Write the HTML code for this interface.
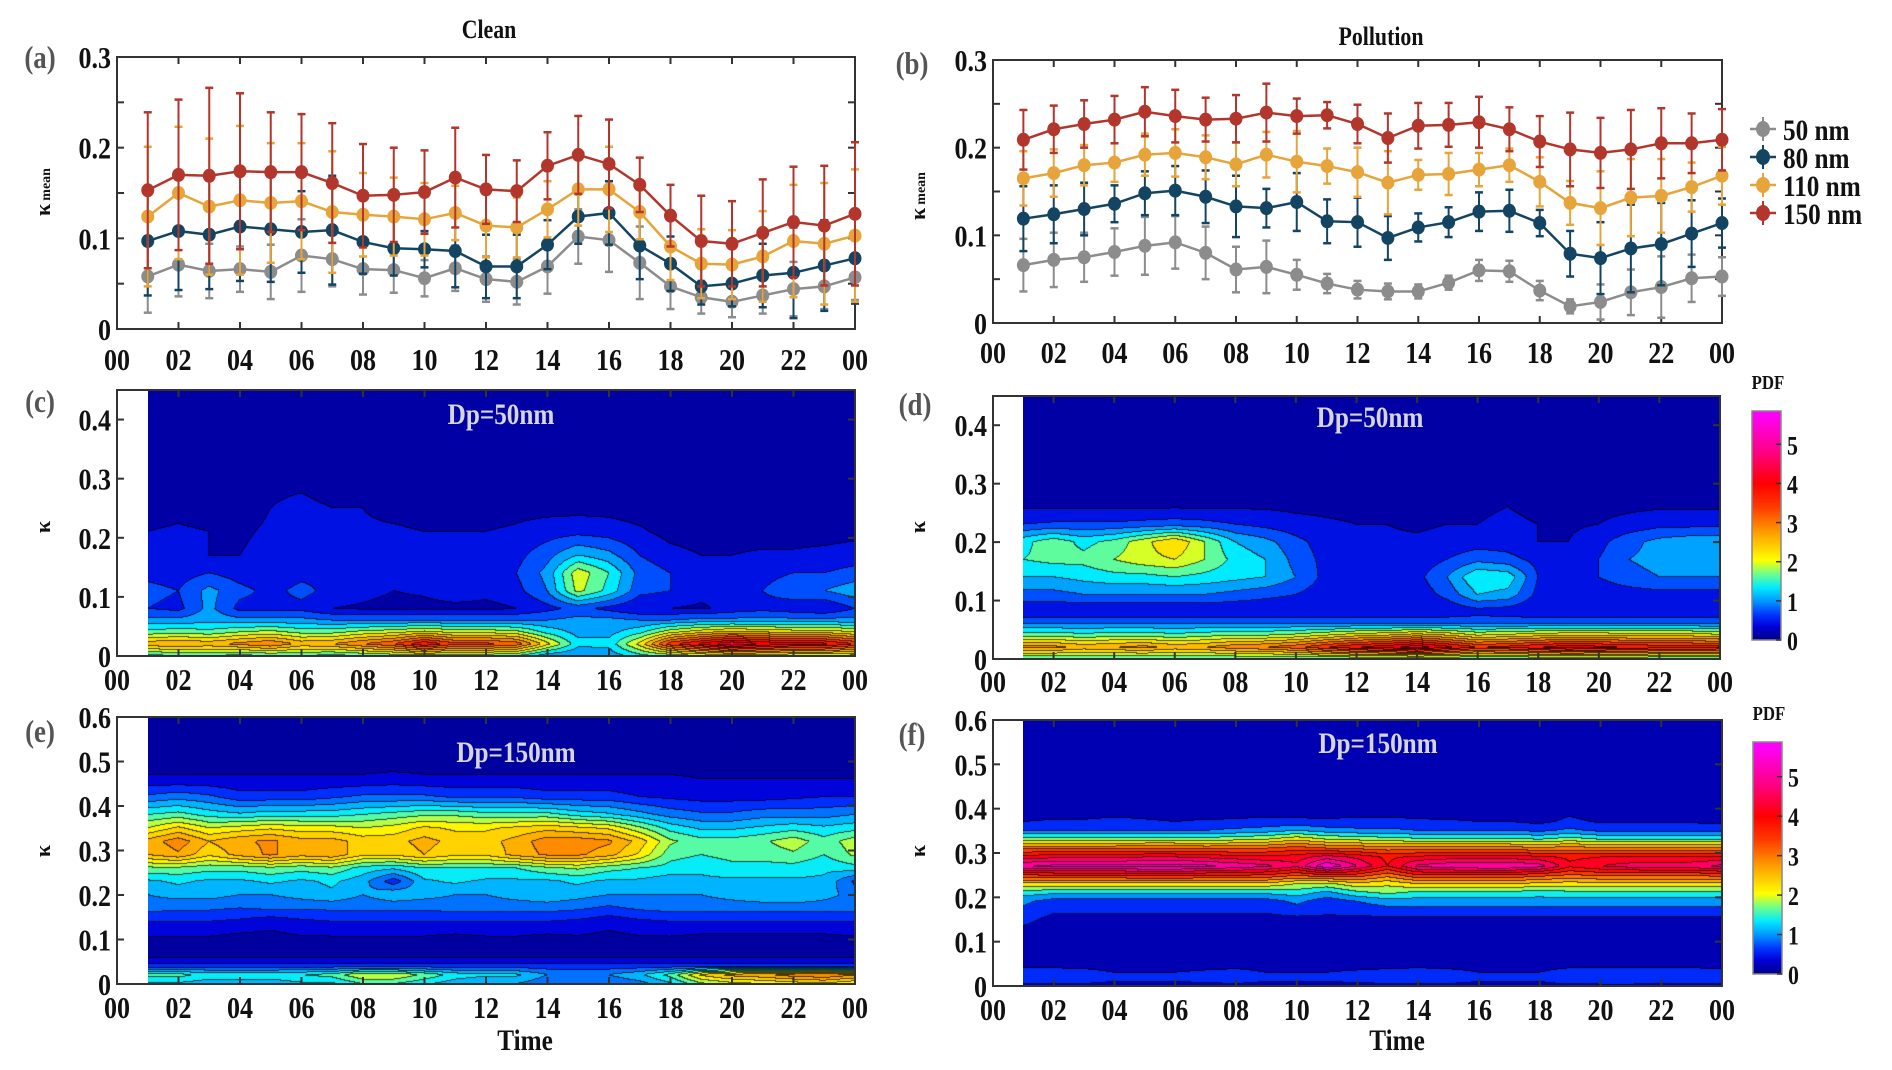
<!DOCTYPE html>
<html><head><meta charset="utf-8">
<style>
html,body{margin:0;padding:0;background:#fff;}
#wrap{position:relative;width:1892px;height:1070px;overflow:hidden;background:#fff;}
canvas{position:absolute;}
svg{position:absolute;left:0;top:0;}
</style></head>
<body>
<div id="wrap">
<canvas id="cc"></canvas>
<canvas id="cd"></canvas>
<canvas id="ce"></canvas>
<canvas id="cf"></canvas>
<canvas id="cbd"></canvas>
<canvas id="cbf"></canvas>
<svg id="svg" width="1892" height="1070" xmlns="http://www.w3.org/2000/svg"></svg>
</div>
<script>
// ---------- data: panel a/b (hours 1..24) ----------
const hours = [1,2,3,4,5,6,7,8,9,10,11,12,13,14,15,16,17,18,19,20,21,22,23,24];
const sizeLabels = ["50 nm","80 nm","110 nm","150 nm"];
const xTickLabels = ["00","02","04","06","08","10","12","14","16","18","20","22","00"];

const a50 = [0.058,0.071,0.064,0.066,0.063,0.081,0.077,0.066,0.065,0.056,0.067,0.055,0.052,0.069,0.102,0.098,0.073,0.047,0.035,0.030,0.037,0.044,0.047,0.057];
const a50e = [0.04,0.035,0.03,0.025,0.03,0.04,0.03,0.028,0.025,0.02,0.025,0.025,0.025,0.03,0.03,0.035,0.04,0.025,0.018,0.017,0.02,0.03,0.025,0.025];
const a80 = [0.097,0.108,0.104,0.113,0.110,0.107,0.109,0.096,0.089,0.088,0.086,0.069,0.069,0.093,0.124,0.128,0.092,0.072,0.047,0.050,0.059,0.062,0.070,0.078];
const a80e = [0.06,0.065,0.06,0.06,0.058,0.045,0.06,0.035,0.03,0.02,0.04,0.035,0.035,0.027,0.03,0.035,0.037,0.03,0.02,0.025,0.035,0.05,0.05,0.05];
const a110 = [0.124,0.150,0.135,0.142,0.139,0.141,0.129,0.126,0.124,0.121,0.128,0.114,0.112,0.132,0.154,0.154,0.129,0.091,0.072,0.071,0.080,0.097,0.094,0.103];
const a110e = [0.077,0.073,0.075,0.082,0.066,0.064,0.067,0.046,0.043,0.04,0.03,0.035,0.033,0.031,0.04,0.047,0.03,0.037,0.038,0.038,0.05,0.062,0.067,0.073];
const a150 = [0.153,0.170,0.169,0.174,0.173,0.173,0.161,0.147,0.148,0.151,0.167,0.154,0.152,0.180,0.192,0.182,0.159,0.125,0.097,0.094,0.106,0.118,0.114,0.127];
const a150e = [0.086,0.083,0.097,0.086,0.066,0.064,0.066,0.057,0.052,0.046,0.055,0.038,0.034,0.037,0.043,0.049,0.03,0.034,0.05,0.047,0.059,0.061,0.066,0.079];

const b50 = [0.066,0.072,0.075,0.081,0.088,0.092,0.080,0.061,0.064,0.055,0.045,0.038,0.036,0.036,0.046,0.060,0.059,0.037,0.019,0.024,0.035,0.041,0.051,0.053];
const b50e = [0.03,0.031,0.028,0.027,0.033,0.03,0.03,0.026,0.03,0.017,0.011,0.01,0.009,0.008,0.008,0.012,0.012,0.011,0.008,0.02,0.026,0.035,0.027,0.022];
const b80 = [0.119,0.124,0.130,0.136,0.148,0.151,0.144,0.133,0.131,0.138,0.116,0.115,0.097,0.109,0.115,0.127,0.128,0.114,0.079,0.074,0.085,0.090,0.102,0.114];
const b80e = [0.037,0.033,0.03,0.021,0.025,0.028,0.03,0.035,0.022,0.033,0.025,0.028,0.025,0.016,0.017,0.022,0.024,0.015,0.026,0.041,0.05,0.047,0.038,0.028];
const b110 = [0.165,0.171,0.180,0.183,0.192,0.194,0.189,0.181,0.192,0.184,0.179,0.172,0.160,0.169,0.170,0.175,0.180,0.161,0.137,0.131,0.143,0.145,0.155,0.168];
const b110e = [0.031,0.027,0.023,0.022,0.024,0.027,0.025,0.025,0.026,0.035,0.02,0.028,0.036,0.017,0.024,0.019,0.019,0.028,0.025,0.042,0.044,0.042,0.028,0.033];
const b150 = [0.209,0.221,0.227,0.232,0.241,0.236,0.232,0.233,0.240,0.236,0.237,0.227,0.211,0.225,0.226,0.229,0.221,0.207,0.198,0.194,0.198,0.205,0.205,0.209];
const b150e = [0.034,0.027,0.027,0.027,0.028,0.03,0.025,0.027,0.033,0.02,0.015,0.022,0.028,0.026,0.025,0.029,0.025,0.029,0.042,0.04,0.045,0.04,0.034,0.035];

// ---------- data: contour PDFs (rows = kappa levels, cols = hours 1..24) ----------
const kC = [0,0.02,0.04,0.06,0.08,0.11,0.14,0.17,0.21,0.25,0.3,0.35,0.45];
const pdfC = [
[1.4,1.5,1.5,1.4,1.5,1.5,1.4,1.5,1.6,1.7,1.6,1.6,1.5,1.0,0.9,1.0,1.4,1.6,1.8,1.9,1.9,1.8,1.8,1.7],
[2.6,2.7,2.6,2.8,3.0,2.6,2.7,3.0,3.3,3.9,3.4,3.4,3.2,2.2,1.3,1.3,2.2,3.5,4.0,4.5,4.2,4.0,4.0,3.6],
[1.6,1.7,1.6,1.8,1.9,1.7,1.7,1.9,2.0,2.2,2.0,2.0,1.9,1.4,1.1,1.1,1.4,2.0,2.3,2.5,2.4,2.3,2.3,2.1],
[1.0,1.0,1.1,1.0,1.0,1.0,0.9,0.9,0.9,0.9,0.9,0.9,0.9,0.9,1.0,1.0,0.9,0.9,1.0,1.0,1.0,1.0,1.0,1.0],
[0.6,0.5,1.0,0.5,0.5,0.5,0.3,0.25,0.2,0.2,0.2,0.2,0.3,0.5,0.7,0.5,0.3,0.3,0.25,0.4,0.5,0.4,0.3,0.6],
[0.7,0.6,1.0,0.7,0.5,0.7,0.5,0.4,0.3,0.35,0.5,0.4,0.5,0.9,1.9,1.4,0.7,0.6,0.4,0.4,0.6,0.8,0.9,1.1],
[0.5,0.45,0.6,0.45,0.35,0.5,0.5,0.5,0.6,0.6,0.6,0.6,0.6,1.0,2.0,1.5,0.8,0.6,0.35,0.4,0.5,0.6,0.6,0.7],
[0.4,0.4,0.3,0.3,0.4,0.45,0.5,0.45,0.5,0.5,0.45,0.45,0.5,0.8,1.2,1.0,0.6,0.4,0.3,0.3,0.35,0.35,0.4,0.45],
[0.3,0.35,0.3,0.25,0.35,0.4,0.4,0.35,0.35,0.3,0.3,0.3,0.35,0.45,0.5,0.45,0.35,0.2,0.15,0.15,0.15,0.15,0.15,0.2],
[0.15,0.2,0.15,0.15,0.3,0.35,0.3,0.3,0.2,0.15,0.15,0.15,0.2,0.2,0.2,0.2,0.15,0.1,0.1,0.1,0.1,0.1,0.1,0.1],
[0.05,0.05,0.05,0.05,0.25,0.25,0.2,0.1,0.05,0.05,0.05,0.05,0.05,0.05,0.05,0.05,0.05,0.05,0.05,0.05,0.05,0.05,0.05,0.05],
[0.05,0.05,0.05,0.05,0.15,0.15,0.15,0.05,0.05,0.05,0.05,0.05,0.05,0.05,0.05,0.05,0.05,0.05,0.05,0.05,0.05,0.05,0.05,0.05],
[0,0,0,0,0,0,0,0,0,0,0,0,0,0,0,0,0,0,0,0,0,0,0,0]
];
const kD = [0,0.02,0.04,0.06,0.08,0.11,0.14,0.17,0.2,0.23,0.26,0.3,0.35,0.45];
const pdfD = [
[1.5,1.5,1.5,1.5,1.5,1.5,1.5,1.5,1.5,1.5,1.5,1.5,1.5,1.5,1.5,1.5,1.5,1.5,1.5,1.5,1.5,1.5,1.5,1.5],
[2.8,2.8,2.6,2.7,2.8,2.6,2.7,2.9,3.0,3.2,3.6,3.9,4.1,4.4,4.0,3.6,3.7,3.9,4.1,4.0,3.9,3.8,3.8,3.7],
[1.7,1.7,1.6,1.7,1.7,1.6,1.7,1.8,1.8,1.9,2.1,2.3,2.4,2.6,2.4,2.1,2.2,2.3,2.4,2.4,2.3,2.3,2.3,2.2],
[0.9,0.9,0.9,0.9,0.9,0.9,0.9,0.9,0.9,0.9,0.9,0.9,0.9,0.9,0.9,0.9,0.9,0.9,0.9,0.9,0.9,0.9,0.9,0.9],
[0.3,0.3,0.3,0.3,0.3,0.3,0.3,0.3,0.3,0.3,0.3,0.3,0.3,0.3,0.35,0.45,0.4,0.3,0.3,0.3,0.3,0.3,0.3,0.3],
[0.8,0.8,0.9,0.9,0.9,0.9,0.9,0.8,0.7,0.6,0.4,0.35,0.35,0.4,0.7,1.2,1.1,0.5,0.4,0.4,0.45,0.5,0.5,0.5],
[1.2,1.2,1.3,1.4,1.4,1.5,1.4,1.3,1.2,0.9,0.5,0.45,0.4,0.5,0.9,1.5,1.4,0.6,0.5,0.6,0.8,0.9,0.9,0.9],
[1.5,1.6,1.6,1.8,2.0,2.1,1.8,1.4,1.2,0.8,0.5,0.45,0.4,0.4,0.6,0.8,0.7,0.5,0.5,0.6,0.9,1.0,1.1,1.1],
[1.4,1.7,1.4,1.6,2.0,2.4,1.8,1.2,1.0,0.7,0.45,0.4,0.35,0.35,0.4,0.45,0.45,0.3,0.3,0.5,0.8,1.0,1.1,1.1],
[0.6,0.65,0.65,0.65,0.7,0.75,0.7,0.6,0.5,0.4,0.35,0.3,0.3,0.25,0.3,0.3,0.35,0.3,0.25,0.3,0.4,0.5,0.5,0.5],
[0.26,0.26,0.26,0.26,0.26,0.26,0.26,0.26,0.26,0.24,0.22,0.2,0.2,0.2,0.22,0.26,0.3,0.24,0.2,0.22,0.24,0.26,0.26,0.26],
[0.05,0.05,0.05,0.05,0.05,0.05,0.05,0.05,0.05,0.05,0.05,0.05,0.05,0.05,0.05,0.05,0.05,0.05,0.05,0.05,0.05,0.05,0.05,0.05],
[0,0,0,0,0,0,0,0,0,0,0,0,0,0,0,0,0,0,0,0,0,0,0,0],
[0,0,0,0,0,0,0,0,0,0,0,0,0,0,0,0,0,0,0,0,0,0,0,0]
];
const kE = [0,0.02,0.04,0.06,0.1,0.14,0.17,0.2,0.23,0.26,0.29,0.32,0.35,0.38,0.42,0.46,0.5,0.6];
const pdfE = [
[1.2,1.2,1.1,1.1,1.1,1.2,1.2,1.5,1.5,1.3,1.1,1.0,1.0,0.8,0.8,0.8,0.9,1.2,1.7,1.9,2.0,2.1,2.2,2.0],
[1.6,1.6,1.4,1.4,1.4,1.5,1.6,2.0,2.0,1.7,1.4,1.3,1.3,1.0,1.0,1.0,1.2,1.6,2.3,2.6,2.7,2.9,3.0,2.8],
[0.6,0.6,0.6,0.6,0.6,0.6,0.6,0.6,0.6,0.6,0.6,0.6,0.6,0.6,0.6,0.6,0.6,0.6,0.6,0.6,0.6,0.6,0.6,0.6],
[0.2,0.2,0.2,0.2,0.2,0.2,0.2,0.2,0.2,0.2,0.2,0.2,0.2,0.2,0.2,0.2,0.2,0.2,0.2,0.2,0.2,0.2,0.2,0.2],
[0.2,0.2,0.2,0.15,0.15,0.2,0.2,0.2,0.2,0.2,0.15,0.2,0.2,0.15,0.2,0.15,0.2,0.2,0.15,0.15,0.15,0.15,0.15,0.2],
[0.5,0.5,0.5,0.45,0.35,0.45,0.5,0.5,0.5,0.5,0.5,0.5,0.5,0.5,0.45,0.35,0.45,0.5,0.5,0.5,0.5,0.5,0.5,0.5],
[0.85,0.8,0.8,0.75,0.8,0.8,0.8,0.8,0.8,0.8,0.85,0.85,0.85,0.85,0.8,0.7,0.8,0.85,0.85,0.85,0.85,0.85,0.85,0.85],
[1.0,1.1,1.1,1.0,1.0,1.1,1.2,1.0,1.2,1.1,1.0,1.0,1.1,1.2,1.1,1.0,1.0,1.0,1.0,1.1,1.2,1.25,1.1,0.9],
[1.2,1.3,1.2,1.2,1.3,1.2,1.3,1.1,0.6,1.2,1.3,1.2,1.2,1.2,1.3,1.2,1.2,1.1,1.2,1.2,1.2,1.2,1.2,0.7],
[1.7,1.7,1.6,1.6,1.7,1.6,1.7,1.4,1.3,1.5,1.5,1.5,1.5,1.7,1.8,1.6,1.5,1.4,1.3,1.4,1.4,1.4,1.3,1.4],
[2.5,2.7,2.3,2.6,2.8,2.6,2.7,2.3,2.3,2.5,2.3,2.3,2.6,2.8,2.8,2.6,2.2,1.6,1.5,1.6,1.6,1.7,1.5,1.8],
[2.6,2.9,2.5,2.7,2.8,2.6,2.6,2.4,2.4,2.6,2.4,2.4,2.6,2.9,2.9,2.8,2.4,1.8,1.6,1.6,1.7,1.9,1.6,1.9],
[2.0,2.3,2.0,2.1,2.2,2.1,2.1,2.0,2.1,2.3,2.2,2.2,2.3,2.4,2.3,2.2,1.8,1.4,1.2,1.2,1.3,1.4,1.3,1.4],
[1.5,1.6,1.4,1.3,1.4,1.4,1.4,1.5,1.6,1.7,1.7,1.6,1.6,1.6,1.4,1.3,1.1,0.9,0.8,0.8,0.9,0.9,0.9,1.0],
[0.8,0.9,0.8,0.6,0.6,0.6,0.7,0.8,0.8,0.8,0.7,0.7,0.7,0.6,0.6,0.6,0.5,0.45,0.4,0.4,0.4,0.45,0.5,0.5],
[0.3,0.3,0.3,0.3,0.3,0.3,0.3,0.3,0.35,0.3,0.3,0.3,0.3,0.3,0.3,0.3,0.3,0.3,0.25,0.25,0.25,0.25,0.25,0.25],
[0.1,0.1,0.1,0.1,0.1,0.1,0.1,0.1,0.1,0.1,0.1,0.1,0.1,0.1,0.1,0.1,0.1,0.1,0.1,0.1,0.1,0.1,0.1,0.1],
[0,0,0,0,0,0,0,0,0,0,0,0,0,0,0,0,0,0,0,0,0,0,0,0]
];
const kF = [0,0.02,0.05,0.1,0.15,0.19,0.21,0.23,0.25,0.27,0.29,0.31,0.33,0.35,0.37,0.4,0.5,0.6];
const pdfF = [
[0.35,0.35,0.35,0.35,0.35,0.35,0.35,0.35,0.35,0.35,0.35,0.35,0.35,0.35,0.35,0.35,0.35,0.35,0.35,0.35,0.35,0.35,0.35,0.35],
[0.6,0.6,0.55,0.45,0.45,0.45,0.5,0.55,0.45,0.45,0.45,0.5,0.55,0.6,0.55,0.45,0.45,0.45,0.6,0.65,0.65,0.6,0.6,0.55],
[0.3,0.3,0.3,0.3,0.3,0.3,0.3,0.3,0.3,0.3,0.3,0.3,0.3,0.3,0.3,0.3,0.3,0.3,0.3,0.3,0.3,0.3,0.3,0.3],
[0.15,0.15,0.15,0.15,0.15,0.15,0.15,0.15,0.15,0.15,0.3,0.15,0.15,0.15,0.15,0.15,0.15,0.15,0.15,0.15,0.15,0.15,0.15,0.15],
[0.5,0.3,0.3,0.3,0.3,0.3,0.3,0.3,0.3,0.3,0.35,0.3,0.3,0.3,0.3,0.3,0.3,0.3,0.3,0.3,0.3,0.3,0.3,0.3],
[0.9,0.6,0.6,0.6,0.6,0.6,0.6,0.6,0.6,0.9,0.55,0.8,1.0,1.0,1.0,1.0,1.0,1.0,1.0,1.0,1.0,1.0,1.0,1.0],
[1.4,1.3,1.3,1.3,1.3,1.3,1.3,1.3,1.3,1.4,1.1,1.5,1.7,1.5,1.5,1.5,1.5,1.4,1.5,1.5,1.5,1.5,1.5,1.5],
[2.3,2.3,2.3,2.3,2.3,2.3,2.3,2.3,2.3,2.0,1.9,2.3,2.1,2.4,2.4,2.4,2.4,2.3,2.2,2.3,2.3,2.3,2.3,2.3],
[3.6,3.7,3.7,3.7,3.8,3.8,3.7,3.7,3.6,3.3,3.6,3.5,3.0,3.6,3.6,3.6,3.6,3.4,3.2,3.3,3.3,3.3,3.3,3.4],
[5.2,5.3,5.3,5.3,5.4,5.4,5.3,5.1,4.9,4.5,5.6,4.8,4.0,4.9,5.1,5.2,5.2,5.0,4.1,4.4,4.6,4.7,4.7,4.9],
[4.2,4.3,4.3,4.3,4.4,4.4,4.3,4.2,4.1,4.2,4.6,4.3,3.9,4.1,4.2,4.2,4.2,4.1,3.9,4.0,4.0,4.0,4.0,4.1],
[3.1,3.1,3.1,3.1,3.2,3.2,3.1,3.1,3.2,3.4,3.2,3.1,3.0,3.0,3.0,3.0,3.0,2.9,3.0,2.9,2.9,2.9,2.9,2.9],
[1.8,1.8,1.8,1.8,1.8,1.8,1.8,1.9,2.0,2.3,2.0,1.9,1.8,1.7,1.7,1.7,1.7,1.6,1.8,1.6,1.6,1.6,1.6,1.6],
[0.8,0.8,0.8,0.8,0.8,0.8,0.8,0.9,1.0,1.2,1.0,0.9,0.9,0.8,0.8,0.8,0.8,0.7,0.9,0.7,0.7,0.7,0.7,0.7],
[0.4,0.45,0.45,0.5,0.45,0.4,0.45,0.45,0.5,0.5,0.45,0.5,0.5,0.45,0.45,0.4,0.4,0.3,0.5,0.35,0.35,0.35,0.35,0.3],
[0.1,0.15,0.15,0.2,0.2,0.15,0.15,0.2,0.2,0.15,0.2,0.2,0.2,0.2,0.15,0.1,0.1,0.1,0.25,0.1,0.1,0.1,0.1,0.1],
[0,0,0,0,0,0,0,0,0,0,0,0,0,0,0,0,0,0,0,0,0,0,0,0],
[0,0,0,0,0,0,0,0,0,0,0,0,0,0,0,0,0,0,0,0,0,0,0,0]
];
const cbTicks = [0,1,2,3,4,5];

// ---------- rendering ----------
const NS = "http://www.w3.org/2000/svg";
const svg = document.getElementById('svg');
const SERIF = '"Liberation Serif", "DejaVu Serif", serif';
function el(tag, attrs, parent) {
  const e = document.createElementNS(NS, tag);
  for (const k in attrs) e.setAttribute(k, attrs[k]);
  (parent || svg).appendChild(e);
  return e;
}
function txt(str, x, y, size, opts, parent) {
  opts = opts || {};
  const g = el('g', {transform: 'translate(' + x + ',' + y + ')' + (opts.rot ? ' rotate(' + opts.rot + ')' : '') + ' scale(' + (opts.sx || 0.84) + ',1)'}, parent);
  const t = el('text', {x: 0, y: 0, 'font-family': SERIF, 'font-weight': 'bold', 'font-size': size, fill: opts.fill || '#111', 'text-anchor': opts.anchor || 'middle'}, g);
  t.textContent = str;
  return t;
}

function axisFns(P) {
  return {
    x: h => P.x0 + h / 24 * (P.x1 - P.x0),
    y: v => P.yb - (v - 0) / P.ymax * (P.yb - P.yt)
  };
}

function drawFrame(P, yTicks, yMinor, g) {
  const A = axisFns(P);
  el('rect', {x: P.x0, y: P.yt, width: P.x1 - P.x0, height: P.yb - P.yt, fill: 'none', stroke: '#333', 'stroke-width': 2}, g);
  for (let i = 0; i < xTickLabels.length; i++) {
    const x = A.x(i * 2);
    el('line', {x1: x, y1: P.yb, x2: x, y2: P.yb - 7, stroke: '#333', 'stroke-width': 2}, g);
    el('line', {x1: x, y1: P.yt, x2: x, y2: P.yt + 7, stroke: '#333', 'stroke-width': 2}, g);
    const t = txt(xTickLabels[i], x, P.xly, 31, {}, g);
    
    
  }
  for (const v of yMinor) {
    const y = A.y(v);
    el('line', {x1: P.x0, y1: y, x2: P.x0 + 7, y2: y, stroke: '#333', 'stroke-width': 2}, g);
    el('line', {x1: P.x1, y1: y, x2: P.x1 - 7, y2: y, stroke: '#333', 'stroke-width': 2}, g);
  }
  for (const v of yTicks) {
    const y = A.y(v);
    const t = txt(v === 0 ? '0' : String(v), P.x0 - 6, y + 11, 31, {anchor: 'end'}, g);
    
    
  }
}

const colors = ['#8c8c8c', '#134563', '#e6a43a', '#b3362c'];

function linePanel(P, series, errs, name) {
  const g = el('g', { });
  const A = axisFns(P);
  drawFrame(P, [0, 0.1, 0.2, 0.3], [0.05, 0.1, 0.15, 0.2, 0.25], g);
  series.forEach((s, si) => {
    const sg = el('g', {}, g);
    
    
    const c = colors[si];
    s.forEach((v, i) => {
      const x = A.x(hours[i]);
      const y1 = A.y(v + errs[si][i]), y2 = A.y(Math.max(0, v - errs[si][i]));
      el('line', {x1: x, y1: y1, x2: x, y2: y2, stroke: c, 'stroke-width': 2}, sg);
      el('line', {x1: x - 4, y1: y1, x2: x + 4, y2: y1, stroke: c, 'stroke-width': 2.5}, sg);
      el('line', {x1: x - 4, y1: y2, x2: x + 4, y2: y2, stroke: c, 'stroke-width': 2.5}, sg);
    });
    const pts = s.map((v, i) => A.x(hours[i]) + ',' + A.y(v)).join(' ');
    el('polyline', {points: pts, fill: 'none', stroke: c, 'stroke-width': 2.5}, sg);
    s.forEach((v, i) => {
      const m = el('ellipse', {cx: A.x(hours[i]), cy: A.y(v), rx: 6.5, ry: 7, fill: c}, sg);
      
      
    });
  });
}

// colormap
const cmapStops = [[0,[0,0,128]],[0.35,[0,0,215]],[0.65,[0,50,255]],[1.0,[0,150,255]],[1.35,[0,235,255]],[1.7,[110,255,140]],[2.05,[255,255,0]],[2.7,[255,165,0]],[3.4,[255,60,0]],[4.0,[255,0,0]],[4.8,[255,0,130]],[5.8,[255,0,255]]];
function cmap(v) {
  if (v <= cmapStops[0][0]) return cmapStops[0][1];
  for (let i = 1; i < cmapStops.length; i++) {
    if (v <= cmapStops[i][0]) {
      const a = cmapStops[i - 1], b = cmapStops[i];
      const t = (v - a[0]) / (b[0] - a[0]);
      return [0, 1, 2].map(j => Math.round(a[1][j] + (b[1][j] - a[1][j]) * t));
    }
  }
  return cmapStops[cmapStops.length - 1][1];
}

function sampleGrid(kArr, grid, h, k) {
  let hi = Math.min(Math.max(h - 1, 0), 23);
  let i0 = Math.min(Math.floor(hi), 22), ft = hi - i0;
  let r = 0;
  while (r < kArr.length - 2 && k > kArr[r + 1]) r++;
  let fk = (k - kArr[r]) / (kArr[r + 1] - kArr[r]);
  fk = Math.min(Math.max(fk, 0), 1);
  const v00 = grid[r][i0], v01 = grid[r][i0 + 1], v10 = grid[r + 1][i0], v11 = grid[r + 1][i0 + 1];
  return (v00 * (1 - ft) + v01 * ft) * (1 - fk) + (v10 * (1 - ft) + v11 * ft) * fk;
}

function contourPanel(P, kArr, grid, canvasId, label, name, step) {
  const cv = document.getElementById(canvasId);
  const A = axisFns(P);
  const xs = Math.round(A.x(1)), W = Math.round(P.x1) - xs, Y0 = Math.round(P.yt), H = Math.round(P.yb) - Y0;
  cv.width = W; cv.height = H;
  cv.style.left = xs + 'px'; cv.style.top = Y0 + 'px';
  const ctx = cv.getContext('2d');
  const img = ctx.createImageData(W, H);
  const lev = new Int16Array(W * H);
  for (let py = 0; py < H; py++) {
    const k = (P.yb - (Y0 + py + 0.5)) / (P.yb - P.yt) * P.ymax;
    for (let px = 0; px < W; px++) {
      const h = (xs + px + 0.5 - P.x0) / (P.x1 - P.x0) * 24;
      const v = sampleGrid(kArr, grid, h, k);
      lev[py * W + px] = Math.floor(Math.max(v, 0) / step);
    }
  }
  for (let py = 0; py < H; py++) {
    for (let px = 0; px < W; px++) {
      const L = lev[py * W + px];
      let col = cmap((L + 0.5) * step);
      const edge = (px + 1 < W && lev[py * W + px + 1] !== L) || (py + 1 < H && lev[(py + 1) * W + px] !== L);
      if (edge) col = col.map(c => Math.round(c * 0.3));
      const o = (py * W + px) * 4;
      img.data[o] = col[0]; img.data[o + 1] = col[1]; img.data[o + 2] = col[2]; img.data[o + 3] = 255;
    }
  }
  ctx.putImageData(img, 0, 0);
  const g = el('g', { });
  const yt = P.ymax > 0.5 ? [0, 0.1, 0.2, 0.3, 0.4, 0.5, 0.6] : [0, 0.1, 0.2, 0.3, 0.4];
  drawFrame(P, yt, yt, g);
  const t = txt(label, P.lx, P.ly, 30, {fill: '#d6d6d6'}, g);
  
  
}

function colorbar(id, x, yt, yb, vmax, name) {
  const cv = document.getElementById(id);
  const W = 29, H = yb - yt;
  cv.width = W; cv.height = H;
  cv.style.left = x + 'px'; cv.style.top = yt + 'px';
  const ctx = cv.getContext('2d');
  for (let py = 0; py < H; py++) {
    const v = (H - py) / H * vmax;
    const c = cmap(v);
    ctx.fillStyle = 'rgb(' + c.join(',') + ')';
    ctx.fillRect(0, py, W, 1);
  }
  const g = el('g', { });
  el('rect', {x: x, y: yt, width: W, height: H, fill: 'none', stroke: '#888', 'stroke-width': 1.5}, g);
  cbTicks.forEach(v => {
    const y = yb - v / vmax * H;
    el('line', {x1: x + W - 5, y1: y, x2: x + W, y2: y, stroke: '#333', 'stroke-width': 1.5}, g);
    const t = txt(String(v), x + W + 6, y + 10, 26, {anchor: 'start'}, g);
    
    
  });
  const p = txt('PDF', x + 16, yt - 22, 20, {}, g);
  
  
}

// panel geometry
const PA = {x0: 117, x1: 855, yt: 57, yb: 329, ymax: 0.3, xly: 370};
const PB = {x0: 993, x1: 1722, yt: 60, yb: 323, ymax: 0.3, xly: 363};
const PC = {x0: 117, x1: 855, yt: 390, yb: 656, ymax: 0.45, xly: 690, lx: 501, ly: 424};
const PD = {x0: 993, x1: 1720, yt: 396, yb: 659, ymax: 0.45, xly: 692, lx: 1370, ly: 427};
const PE = {x0: 117, x1: 855, yt: 717, yb: 984, ymax: 0.6, xly: 1018, lx: 516, ly: 762};
const PF = {x0: 993, x1: 1722, yt: 720, yb: 986, ymax: 0.6, xly: 1020, lx: 1378, ly: 753};

linePanel(PA, [a50, a80, a110, a150], [a50e, a80e, a110e, a150e], 'panel-a-clean-kappa-mean');
linePanel(PB, [b50, b80, b110, b150], [b50e, b80e, b110e, b150e], 'panel-b-pollution-kappa-mean');
contourPanel(PC, kC, pdfC, 'cc', 'Dp=50nm', 'panel-c', 0.3);
contourPanel(PD, kD, pdfD, 'cd', 'Dp=50nm', 'panel-d', 0.3);
contourPanel(PE, kE, pdfE, 'ce', 'Dp=150nm', 'panel-e', 0.25);
contourPanel(PF, kF, pdfF, 'cf', 'Dp=150nm', 'panel-f', 0.4);
colorbar('cbd', 1752, 411, 640, 5.85, 'colorbar-d-pdf');
colorbar('cbf', 1753, 742, 974, 5.88, 'colorbar-f-pdf');

// legend
const lg = el('g', { });
sizeLabels.forEach((s, i) => {
  const y = 129 + i * 28;
  const e = el('g', {}, lg);
  
  
  el('line', {x1: 1750, y1: y, x2: 1776, y2: y, stroke: colors[i], 'stroke-width': 2.5}, e);
  el('line', {x1: 1763, y1: y - 12, x2: 1763, y2: y + 12, stroke: colors[i], 'stroke-width': 2}, e);
  el('ellipse', {cx: 1763, cy: y, rx: 7, ry: 8, fill: colors[i]}, e);
  txt(s, 1783, y + 11, 30, {anchor: 'start'}, e);
});

// titles & labels
function lab(s, x, y, size, name, opts) {
  const t = txt(s, x, y, size, opts || {});
  
  
}
lab('Clean', 489, 38, 26, 'title-clean');
lab('Pollution', 1381, 45, 26, 'title-pollution');
lab('(a)', 40, 68, 32, 'panel-label-a', {fill: '#555'});
lab('(b)', 912, 74, 32, 'panel-label-b', {fill: '#555'});
lab('(c)', 40, 412, 32, 'panel-label-c', {fill: '#555'});
lab('(d)', 915, 415, 32, 'panel-label-d', {fill: '#555'});
lab('(e)', 40, 742, 32, 'panel-label-e', {fill: '#555'});
lab('(f)', 912, 745, 32, 'panel-label-f', {fill: '#555'});
lab('Time', 525, 1050, 30, 'x-axis-title-e');
lab('Time', 1397, 1050, 30, 'x-axis-title-f');
function ytitle(x, y, sub, name) {
  const g = el('g', {transform: 'translate(' + x + ',' + y + ') rotate(-90)',  });
  const t = el('text', {x: 0, y: 0, 'font-family': SERIF, 'font-weight': 'bold', 'font-size': 22, fill: '#111', 'text-anchor': 'middle'}, g);
  t.textContent = 'κ';
  if (sub) {
    const ts = el('tspan', {'font-size': 14, dx: 3, dy: 0}, t);
    ts.textContent = 'mean';
  }
}
ytitle(50, 192, true, 'y-axis-title-a');
ytitle(925, 196, true, 'y-axis-title-b');
ytitle(50, 527, false, 'y-axis-title-c');
ytitle(925, 527, false, 'y-axis-title-d');
ytitle(50, 851, false, 'y-axis-title-e');
ytitle(925, 851, false, 'y-axis-title-f');
</script>
</body></html>
